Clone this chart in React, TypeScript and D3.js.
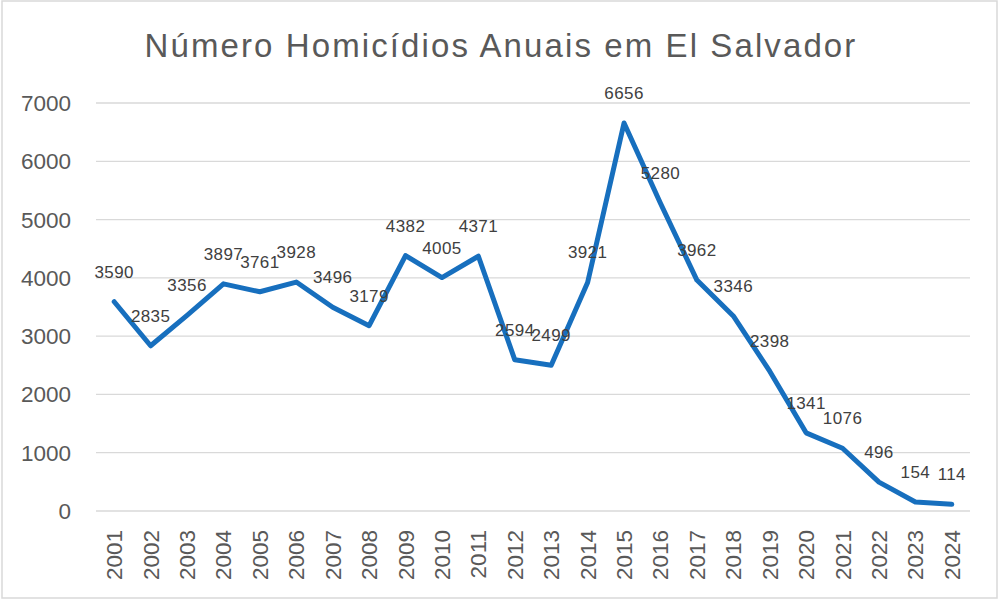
import { useEffect, useRef } from 'react';
import * as d3 from 'd3';

// Homicídios anuais em El Salvador
const years = [
  '2001', '2002', '2003', '2004', '2005', '2006', '2007', '2008', '2009', '2010', '2011', '2012',
  '2013', '2014', '2015', '2016', '2017', '2018', '2019', '2020', '2021', '2022', '2023', '2024',
];
const homicides = [
  3590, 2835, 3356, 3897, 3761, 3928, 3496, 3179, 4382, 4005, 4371, 2594,
  2499, 3921, 6656, 5280, 3962, 3346, 2398, 1341, 1076, 496, 154, 114,
];
const yTicks = [0, 1000, 2000, 3000, 4000, 5000, 6000, 7000];

export default function App() {
  const chartRef = useRef<SVGSVGElement | null>(null);

  useEffect(() => {
    if (!chartRef.current) return;
    const svg = d3.select(chartRef.current);
    svg.selectAll('*').remove();

    const W = 1000;
    const H = 607;
    const margin = { top: 103, right: 30, bottom: 96, left: 96 };
    const font = '"Liberation Sans", Arial, sans-serif';

    svg.append('rect').attr('width', W).attr('height', H).attr('fill', '#fff');
    // borda do gráfico
    svg.append('rect')
      .attr('x', 2).attr('y', 1).attr('width', 995).attr('height', 597)
      .attr('fill', 'none').attr('stroke', '#d9d9d9').attr('stroke-width', 1.5);

    const x = d3.scalePoint<string>()
      .domain(years)
      .range([margin.left, W - margin.right])
      .padding(0.5);
    const y = d3.scaleLinear()
      .domain([0, 7000])
      .range([511, 103]);

    // título
    svg.append('text')
      .attr('x', 501).attr('y', 57)
      .attr('text-anchor', 'middle')
      .attr('font-family', font)
      .attr('font-size', 33)
      .attr('letter-spacing', 2.1)
      .attr('fill', '#595959')
      .text('Número Homicídios Anuais em El Salvador');

    // linhas de grade
    svg.append('g')
      .selectAll('line')
      .data(yTicks)
      .enter()
      .append('line')
      .attr('x1', margin.left).attr('x2', W - margin.right)
      .attr('y1', d => y(d)).attr('y2', d => y(d))
      .attr('stroke', '#d9d9d9').attr('stroke-width', 1.3);

    // eixo Y
    svg.append('g')
      .selectAll('text')
      .data(yTicks)
      .enter()
      .append('text')
      .attr('x', 71)
      .attr('y', d => y(d) + 8)
      .attr('text-anchor', 'end')
      .attr('font-family', font)
      .attr('font-size', 22.5)
      .attr('fill', '#595959')
      .text(d => d);

    // eixo X (rótulos verticais)
    svg.append('g')
      .selectAll('text')
      .data(years)
      .enter()
      .append('text')
      .attr('transform', d => `translate(${(x(d) as number) + 8},530) rotate(-90)`)
      .attr('text-anchor', 'end')
      .attr('font-family', font)
      .attr('font-size', 22.5)
      .attr('fill', '#595959')
      .text(d => d);

    const line = d3.line<number>()
      .x((_, i) => x(years[i]) as number)
      .y(d => y(d));

    svg.append('path')
      .datum(homicides)
      .attr('d', line)
      .attr('fill', 'none')
      .attr('stroke', '#176FBE')
      .attr('stroke-width', 5)
      .attr('stroke-linejoin', 'round')
      .attr('stroke-linecap', 'round');

    // rótulos de dados
    svg.append('g')
      .selectAll('text')
      .data(homicides)
      .enter()
      .append('text')
      .attr('x', (_, i) => x(years[i]) as number)
      .attr('y', d => y(d) - 24)
      .attr('text-anchor', 'middle')
      .attr('font-family', font)
      .attr('font-size', 17)
      .attr('letter-spacing', 0.4)
      .attr('fill', '#404040')
      .text(d => d);
  }, []);

  return (
    <svg
      ref={chartRef}
      width={1000}
      height={607}
      style={{ position: 'absolute', left: 0, top: 0 }}
    />
  );
}
